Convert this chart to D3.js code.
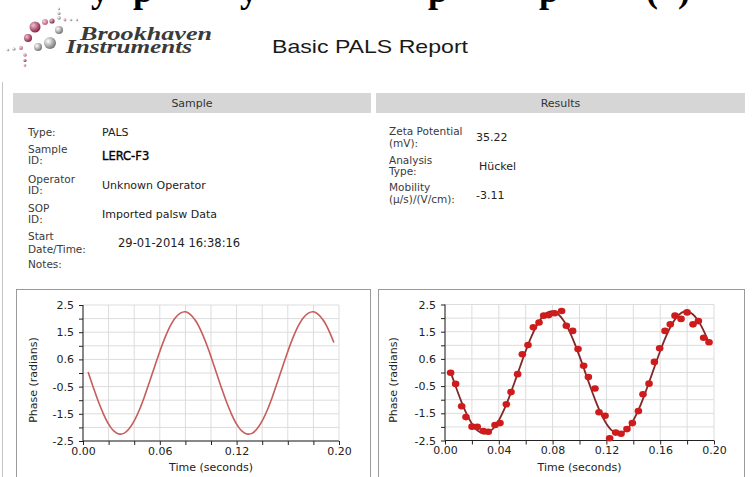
<!DOCTYPE html>
<html>
<head>
<meta charset="utf-8">
<script src="https://cdn.jsdelivr.net/npm/d3@7"></script>
<style>
  body { margin: 0; background: #fff; }
  svg { display: block; }
  .lbl { font-family: "DejaVu Sans", Verdana, sans-serif; font-size: 10.5px; fill: #3a3a3a; }
  .val { font-family: "DejaVu Sans", Verdana, sans-serif; font-size: 11px; fill: #222; }
  .axis text { font-family: "DejaVu Sans", sans-serif; font-size: 11px; fill: #222; }
  .axis path, .axis line { stroke: #222; }
</style>
</head>
<body>
<div id="chart"></div>
<script>
// --- data ---
var sampleLabels = [["Type:"], ["Sample", "ID:"], ["Operator", "ID:"], ["SOP", "ID:"], ["Start", "Date/Time:"], ["Notes:"]];
var sampleValues = ["PALS", "LERC-F3", "Unknown Operator", "Imported palsw Data", "29-01-2014 16:38:16", ""];
var resultLabels = [["Zeta Potential", "(mV):"], ["Analysis", "Type:"], ["Mobility", "(\u00b5/s)/(V/cm):"]];
var resultValues = ["35.22", "H\u00fcckel", "-3.11"];

// fitted phase curve (seconds, radians)
var fitTime  = [0.004, 0.008, 0.012, 0.016, 0.020, 0.024, 0.028, 0.032, 0.036, 0.040, 0.044, 0.048, 0.052,
                0.056, 0.060, 0.064, 0.068, 0.072, 0.076, 0.080, 0.084, 0.088, 0.092, 0.096, 0.100, 0.104,
                0.108, 0.112, 0.116, 0.120, 0.124, 0.128, 0.132, 0.136, 0.140, 0.144, 0.148, 0.152, 0.156,
                0.160, 0.164, 0.168, 0.172, 0.176, 0.180, 0.184, 0.188, 0.192, 0.196];
var fitPhase = [0.04, -0.52, -1.05, -1.51, -1.88, -2.13, -2.24, -2.22, -2.05, -1.76, -1.36, -0.87, -0.32,
                0.24, 0.79, 1.29, 1.71, 2.02, 2.20, 2.25, 2.15, 1.92, 1.57, 1.12, 0.60, 0.04,
                -0.52, -1.05, -1.51, -1.88, -2.13, -2.24, -2.22, -2.05, -1.76, -1.36, -0.87, -0.32, 0.24,
                0.79, 1.29, 1.71, 2.02, 2.20, 2.25, 2.15, 1.92, 1.57, 1.12];

// measured phase points
var dotTime  = [0.0042, 0.0079, 0.0124, 0.0156, 0.0201, 0.0240, 0.0285, 0.0322, 0.0372, 0.0409, 0.0456, 0.0491,
                0.0540, 0.0575, 0.0617, 0.0657, 0.0699, 0.0734, 0.0771, 0.0815, 0.0867, 0.0902, 0.0949, 0.0989,
                0.1031, 0.1066, 0.1115, 0.1145, 0.1190, 0.1224, 0.1269, 0.1309, 0.1353, 0.1393, 0.1438, 0.1472,
                0.1517, 0.1557, 0.1596, 0.1636, 0.1675, 0.1710, 0.1755, 0.1800, 0.1844, 0.1884, 0.1923, 0.1963];
var dotPhase = [-0.01, -0.42, -1.24, -1.64, -1.99, -2.00, -2.15, -2.18, -1.93, -1.86, -1.17, -0.72,
                -0.06, 0.67, 1.01, 1.66, 1.84, 2.09, 2.11, 2.18, 2.26, 1.72, 1.53, 0.86,
                0.25, -0.17, -0.59, -1.46, -1.59, -2.42, -2.21, -2.25, -2.08, -1.86, -1.42, -0.80,
                -0.41, 0.39, 0.89, 1.53, 1.77, 2.09, 1.97, 2.21, 1.77, 1.89, 1.28, 1.11];

var yTickValues = [2.5, 1.5, 0.5, -0.5, -1.5, -2.5];
var yTickLabels = ["2.5", "1.5", "0.6", "-0.5", "-1.5", "-2.5"];
var xTickValuesA = [0, 0.06, 0.12, 0.2];
var xTickLabelsA = ["0.00", "0.06", "0.12", "0.20"];
var xTickValuesB = [0, 0.04, 0.08, 0.12, 0.16, 0.2];
var xTickLabelsB = ["0.00", "0.04", "0.08", "0.12", "0.16", "0.20"];

var captionGlyphs = ["y", "p", "y", "p", "p", "(", ")"];

var svg = d3.select("#chart").append("svg")
  .attr("width", 752).attr("height", 477);

// cut-off caption line of the page above
var capX = [100, 143, 249, 438, 549, 652, 684];
svg.selectAll(".cap").data(captionGlyphs).enter().append("text")
  .attr("x", function(d, i) { return capX[i]; })
  .attr("y", 2)
  .attr("text-anchor", "middle")
  .style("font-family", "Liberation Serif, serif")
  .style("font-weight", "bold")
  .style("font-size", "36px")
  .text(function(d) { return d; });

// logo dots
var defs = svg.append("defs");
function grad(id, hi, lo) {
  var g = defs.append("radialGradient").attr("id", id).attr("cx", "35%").attr("cy", "35%").attr("r", "65%");
  g.append("stop").attr("offset", "0%").attr("stop-color", hi);
  g.append("stop").attr("offset", "100%").attr("stop-color", lo);
}
grad("gm", "#f0c0d0", "#8a2446");
grad("gp", "#f6d4de", "#b8607e");
grad("gg", "#ffffff", "#7a7a7a");
var logoDots = [
  [59, 9, 1.2, "gg"], [59, 13.5, 1.5, "gg"], [59, 18, 1.8, "gg"],
  [65, 20, 1.4, "gp"], [71, 20, 1.3, "gg"], [77, 20, 1.2, "gg"],
  [45, 22, 3, "gp"], [52, 21, 2.6, "gm"], [35, 27, 5.5, "gm"],
  [59, 30, 4, "gg"], [28, 38, 4, "gm"], [50, 43, 6, "gg"], [38, 47, 4, "gg"],
  [8, 50, 1.3, "gg"], [14, 49, 1.6, "gg"], [21, 48, 2, "gp"],
  [25, 55, 1.8, "gp"], [25, 60.5, 1.5, "gm"], [25, 65.5, 1.3, "gp"]
];
svg.selectAll(".logo").data(logoDots).enter().append("circle")
  .attr("cx", function(d) { return d[0]; })
  .attr("cy", function(d) { return d[1]; })
  .attr("r", function(d) { return d[2]; })
  .style("fill", function(d) { return "url(#" + d[3] + ")"; });

svg.append("text").attr("x", 80).attr("y", 40).attr("textLength", 132).attr("lengthAdjust", "spacingAndGlyphs")
  .style("font-family", "Liberation Serif, serif").style("font-style", "italic").style("font-weight", "bold")
  .style("font-size", "18px").style("fill", "#3a3a3a").text("Brookhaven");
svg.append("text").attr("x", 66).attr("y", 53).attr("textLength", 126).attr("lengthAdjust", "spacingAndGlyphs")
  .style("font-family", "Liberation Serif, serif").style("font-style", "italic").style("font-weight", "bold")
  .style("font-size", "18px").style("fill", "#3a3a3a").text("Instruments");

svg.append("text").attr("x", 272).attr("y", 53).attr("textLength", 196).attr("lengthAdjust", "spacingAndGlyphs")
  .style("font-family", "Liberation Sans, Arial, sans-serif").style("font-size", "19px").style("fill", "#1a1a1a")
  .text("Basic PALS Report");

// page left border
svg.append("line").attr("x1", 2.5).attr("x2", 2.5).attr("y1", 82).attr("y2", 477)
  .style("stroke", "#c4c4c4");

// section headers
var headers = [["Sample", 13, 371], ["Results", 376, 745]];
headers.forEach(function(h) {
  svg.append("rect").attr("x", h[1]).attr("y", 93).attr("width", h[2] - h[1]).attr("height", 20)
    .style("fill", "#d6d6d6");
  svg.append("text").attr("class", "lbl").attr("x", (h[1] + h[2]) / 2).attr("y", 107)
    .attr("text-anchor", "middle").style("fill", "#333").style("font-size", "11px").text(h[0]);
});

// sample fields
var sampleLabelY = [[136], [153, 164], [183, 194], [212, 223], [240, 253], [268]];
var sampleValueY = [136, 160, 189, 218, 247, 268];
var sampleValueX = [102, 102, 102, 102, 118, 102];
sampleLabels.forEach(function(lines, i) {
  lines.forEach(function(t, j) {
    svg.append("text").attr("class", "lbl").attr("x", 28).attr("y", sampleLabelY[i][j]).text(t);
  });
  var v = svg.append("text").attr("class", "val").attr("x", sampleValueX[i]).attr("y", sampleValueY[i])
    .text(sampleValues[i]);
  if (i == 1) v.style("fill", "#000").style("font-size", "11.5px").style("stroke", "#000").style("stroke-width", 0.35);
  if (i == 4) v.style("font-size", "11.5px");
});

// results fields
var resultLabelY = [[135, 147], [164, 175], [191, 203]];
var resultValueY = [141, 170, 199];
var resultValueX = [476, 479, 476];
resultLabels.forEach(function(lines, i) {
  lines.forEach(function(t, j) {
    svg.append("text").attr("class", "lbl").attr("x", 389).attr("y", resultLabelY[i][j]).text(t);
  });
  svg.append("text").attr("class", "val").attr("x", resultValueX[i]).attr("y", resultValueY[i])
    .text(resultValues[i]);
});

// charts
function phaseChart(o) {
  var g = svg.append("g");
  g.append("rect").attr("x", o.fx0).attr("y", 289.5).attr("width", o.fx1 - o.fx0).attr("height", 200)
    .style("fill", "#fff").style("stroke", "#9a9a9a");

  var x = d3.scaleLinear().domain([0, 0.2]).range([o.px0, o.px1]);
  var y = d3.scaleLinear().domain([-2.5, 2.5]).range([o.py1, o.py0]);
  var xGrid = d3.range(0, 11).map(function(i) { return i * 0.02; });
  var yGrid = d3.range(0, 11).map(function(i) { return -2.5 + i * 0.5; });

  g.selectAll(".vg").data(xGrid).enter().append("line")
    .attr("x1", function(d) { return x(d); }).attr("x2", function(d) { return x(d); })
    .attr("y1", y(2.5)).attr("y2", y(-2.5)).style("stroke", "#dcdcdc");
  g.selectAll(".hg").data(yGrid).enter().append("line")
    .attr("x1", x(0)).attr("x2", x(0.2))
    .attr("y1", function(d) { return y(d); }).attr("y2", function(d) { return y(d); })
    .style("stroke", "#dcdcdc");

  g.append("g").attr("class", "axis").attr("transform", "translate(" + x(0) + ",0)")
    .call(d3.axisLeft(y).tickValues(yGrid).tickSize(4).tickPadding(5)
      .tickFormat(function(d) {
        var k = yTickValues.findIndex(function(v) { return Math.abs(v - d) < 1e-6; });
        return k < 0 ? "" : yTickLabels[k];
      }));
  g.append("g").attr("class", "axis").attr("transform", "translate(0," + y(-2.5) + ")")
    .call(d3.axisBottom(x).tickValues(xGrid).tickSize(4).tickPadding(2)
      .tickFormat(function(d) {
        var k = o.xVals.findIndex(function(v) { return Math.abs(v - d) < 1e-6; });
        return k < 0 ? "" : o.xLabels[k];
      }));
  g.selectAll(".axis .domain").attr("d", null);
  g.append("line").attr("x1", x(0)).attr("x2", x(0)).attr("y1", y(2.5)).attr("y2", y(-2.5)).style("stroke", "#222");
  g.append("line").attr("x1", x(0)).attr("x2", x(0.2)).attr("y1", y(-2.5)).attr("y2", y(-2.5)).style("stroke", "#222");

  var line = d3.line()
    .x(function(d, i) { return x(fitTime[i]); })
    .y(function(d) { return y(d); })
    .curve(d3.curveCatmullRom);
  g.append("path").datum(fitPhase).attr("d", line)
    .style("fill", "none").style("stroke", o.lineColor).style("stroke-width", o.lineWidth);

  if (o.dots) {
    g.selectAll(".dot").data(dotPhase).enter().append("ellipse")
      .attr("cx", function(d, i) { return x(dotTime[i]); })
      .attr("cy", function(d) { return y(d); })
      .attr("rx", 3.8).attr("ry", 3.3)
      .style("fill", "#cf1b1b");
  }

  g.append("text").attr("transform", "translate(" + o.tx + "," + 380 + ") rotate(-90)")
    .attr("text-anchor", "middle").attr("dy", "0.35em")
    .style("font-family", "DejaVu Sans, sans-serif").style("font-size", "11px").style("fill", "#222")
    .text("Phase (radians)");
  g.append("text").attr("x", (o.px0 + o.px1) / 2).attr("y", 471).attr("text-anchor", "middle")
    .style("font-family", "DejaVu Sans, sans-serif").style("font-size", "11px").style("fill", "#222")
    .text("Time (seconds)");
}

phaseChart({ fx0: 16.5, fx1: 370.5, px0: 83, px1: 339, py0: 305, py1: 441, tx: 33,
  xVals: xTickValuesA, xLabels: xTickLabelsA, lineColor: "#c65c5c", lineWidth: 1.6, dots: false });
phaseChart({ fx0: 378.5, fx1: 744.5, px0: 445, px1: 714, py0: 304.5, py1: 440.5, tx: 393,
  xVals: xTickValuesB, xLabels: xTickLabelsB, lineColor: "#7e2a2a", lineWidth: 1.8, dots: true });
</script>
</body>
</html>
